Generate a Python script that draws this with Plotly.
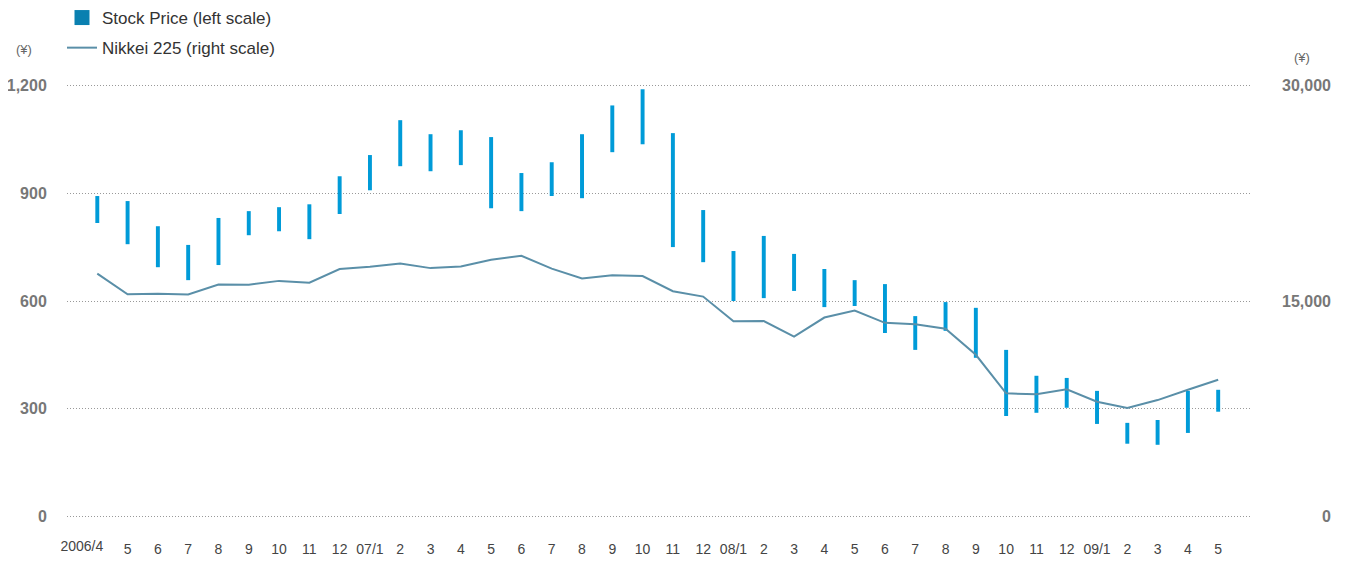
import plotly.graph_objects as go

months = ["2006/4", "5", "6", "7", "8", "9", "10", "11", "12",
          "07/1", "2", "3", "4", "5", "6", "7", "8", "9", "10", "11", "12",
          "08/1", "2", "3", "4", "5", "6", "7", "8", "9", "10", "11", "12",
          "09/1", "2", "3", "4", "5"]

stock_high = [892, 878, 808, 756, 831, 850, 861, 869, 947,
              1006, 1103, 1064, 1075, 1056, 956, 986, 1064, 1144, 1189, 1067, 853,
              739, 781, 731, 689, 658, 647, 558, 597, 581, 464, 392, 386,
              350, 261, 269, 350, 353]
stock_low = [817, 758, 694, 658, 700, 783, 794, 772, 842,
             908, 975, 961, 978, 858, 850, 892, 886, 1014, 1036, 750, 708,
             600, 608, 628, 583, 586, 511, 464, 517, 442, 280, 289, 303,
             258, 203, 200, 233, 292]

nikkei = [16906, 15467, 15505, 15456, 16140, 16127, 16399, 16274, 17225,
          17383, 17604, 17287, 17400, 17875, 18138, 17248, 16569, 16785, 16737, 15680, 15307,
          13592, 13603, 12525, 13849, 14338, 13481, 13376, 13072, 11259, 8576, 8512, 8860,
          7994, 7568, 8109, 8828, 9522]

left_ticks = [0, 300, 600, 900, 1200]
left_labels = ["0", "300", "600", "900", "1,200"]
right_ticks = [0, 15000, 30000]
right_labels = ["0", "15,000", "30,000"]

x = list(range(len(months)))
bar_col = "#009bd8"
line_col = "#5a8fa8"
grey = "#777777"

# page offset of the figure div (default body margin)
OX, OY = 8, 8
W, H = 1347 - OX, 561 - OY
L = 67 - OX
T = 81 - OY
R = 1347 - 1250
B = H - (521 - OY)
PW, PH = W - L - R, H - T - B
XR = [-1, 38.05]


def px_x(page_x):
    return (page_x - OX - L) / PW


def px_y(page_y):
    return (H - B - (page_y - OY)) / PH


xfont = dict(family="Liberation Sans Narrow, Arial Narrow, Liberation Sans, sans-serif",
             size=14, color="#444")

fig = go.Figure()
fig.add_trace(go.Scatter(x=[None], y=[None], mode="markers", name="Stock Price (left scale)",
                         marker=dict(color="#0a80b0", symbol="square", size=15),
                         legendgroup="a", showlegend=True))
fig.add_trace(go.Bar(x=x, y=[h - l for h, l in zip(stock_high, stock_low)],
                     base=stock_low, width=0.13, marker_color=bar_col,
                     marker_line_width=0, showlegend=False, legendgroup="a",
                     name="Stock Price"))
fig.add_trace(go.Scatter(x=x, y=nikkei, xaxis="x2", yaxis="y2", mode="lines",
                         line=dict(color=line_col, width=2),
                         name="Nikkei 225 (right scale)", legendgroup="b"))

right_ann = [dict(text=f"<b>{t}</b>", xref="paper", yref="y2", x=px_x(1333), y=v,
                  xanchor="right", yanchor="middle", showarrow=False,
                  font=dict(size=16, color=grey))
             for v, t in zip(right_ticks, right_labels)]

fig.update_layout(
    width=W, height=H,
    margin=dict(l=L, r=R, t=T, b=B, autoexpand=False),
    paper_bgcolor="white", plot_bgcolor="white",
    barmode="overlay",
    font=dict(family="Liberation Sans, Arial, sans-serif", color="#333"),
    showlegend=True,
    legend=dict(xref="paper", yref="paper", x=px_x(62), y=px_y(0),
                xanchor="left", yanchor="top", font=dict(size=17, color="#333"),
                tracegroupgap=5, itemwidth=30, bgcolor="rgba(0,0,0,0)"),
    xaxis=dict(range=XR, tickmode="array", tickvals=x[1:], ticktext=months[1:],
               showgrid=False, zeroline=False, showline=False, automargin=False,
               tickangle=0,
               ticks="outside", ticklen=15, tickcolor="rgba(0,0,0,0)",
               tickfont=xfont),
    # first month label sits to the left of its bar in the original
    xaxis2=dict(range=XR, overlaying="x", side="bottom", anchor="y2",
                tickmode="array", tickvals=x[:1], ticktext=months[:1],
                ticklabelposition="outside left",
                ticklabelstandoff=15, ticklabelshift=6,
                showgrid=False, zeroline=False, showline=False, automargin=False,
                tickangle=0,
                ticks="", tickfont=xfont),
    yaxis=dict(range=[-12, 1212], tickmode="array", tickvals=left_ticks, ticktext=left_labels,
               showgrid=True, gridcolor="#999999", griddash="1px,2px", gridwidth=1,
               zeroline=False, showline=False, automargin=False,
               ticks="outside", ticklen=16, tickcolor="rgba(0,0,0,0)",
               tickfont=dict(size=16, color=grey, family="Liberation Sans, Arial, sans-serif", weight="bold")),
    yaxis2=dict(range=[-300, 30300], overlaying="y", side="right", anchor="x2",
                showticklabels=False, automargin=False,
                showgrid=False, zeroline=False, showline=False),
    annotations=[
        dict(text="(¥)", xref="paper", yref="paper", x=px_x(24), y=px_y(50),
             showarrow=False, font=dict(size=13, color="#666"), xanchor="center", yanchor="middle"),
        dict(text="(¥)", xref="paper", yref="paper", x=px_x(1302), y=px_y(57),
             showarrow=False, font=dict(size=13, color="#666"), xanchor="center", yanchor="middle"),
    ] + right_ann,
)

fig.write_html("out.html")
